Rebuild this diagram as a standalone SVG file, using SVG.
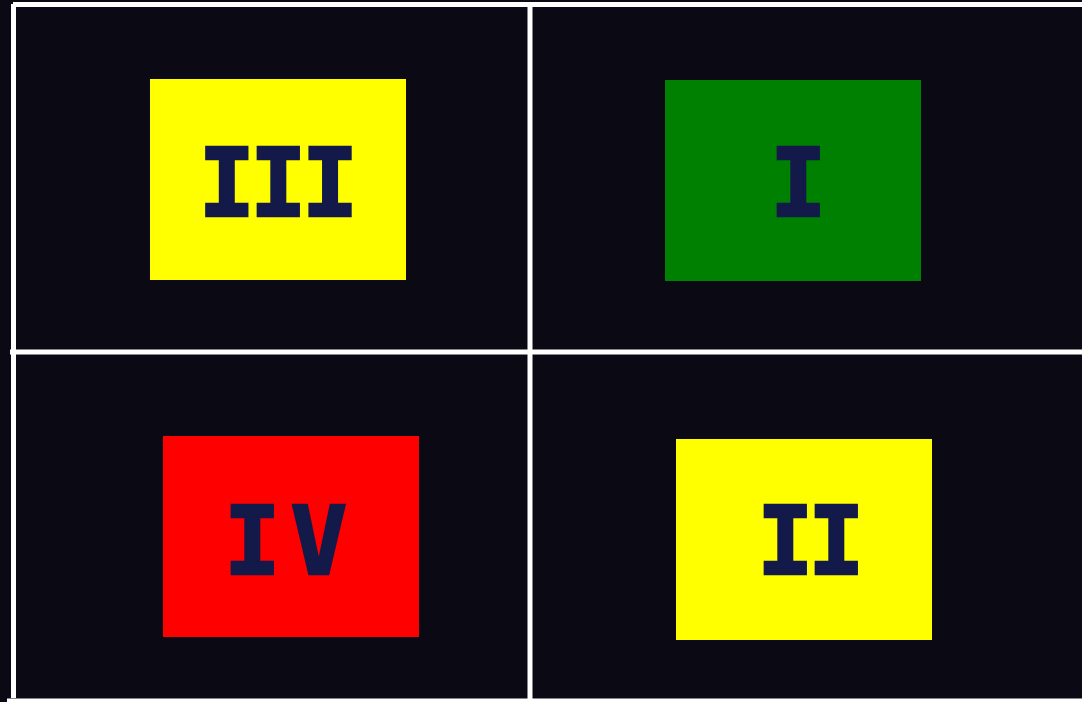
<svg xmlns="http://www.w3.org/2000/svg" width="1082" height="702" viewBox="0 0 1082 702">
<style>
.bg{fill:#0b0a14}
.grid{stroke:#ffffff;stroke-width:5;fill:none}
.lbl{font-family:"DejaVu Sans Mono","Liberation Mono",monospace;font-weight:bold;font-size:94px;fill:#131a4a;stroke:#131a4a;stroke-width:2.5;stroke-linejoin:miter}
</style>
<rect class="bg" x="0" y="0" width="1082" height="702"/>
<g id="connectors">
<line class="grid" x1="13.5" y1="4" x2="13.5" y2="698"/>
<line class="grid" x1="13" y1="4.5" x2="1082" y2="4.5"/>
<line class="grid" x1="10" y1="352" x2="1082" y2="352"/>
<line class="grid" x1="530" y1="4" x2="530" y2="702"/>
<line class="grid" x1="7" y1="701" x2="1082" y2="701"/>
</g>
<g id="node-III">
<rect x="150" y="79" width="256" height="201" fill="#ffff00"/>
<text class="lbl" x="198.5" y="216" letter-spacing="-5">III</text>
</g>
<g id="node-I">
<rect x="665" y="80" width="256" height="201" fill="#008000"/>
<text class="lbl" x="770" y="216">I</text>
</g>
<g id="node-IV">
<rect x="163" y="436" width="256" height="201" fill="#ff0000"/>
<text class="lbl" x="224" y="574" letter-spacing="10">IV</text>
</g>
<g id="node-II">
<rect x="676" y="439" width="256" height="201" fill="#ffff00"/>
<text class="lbl" x="757" y="574" letter-spacing="-5.5">II</text>
</g>
</svg>
